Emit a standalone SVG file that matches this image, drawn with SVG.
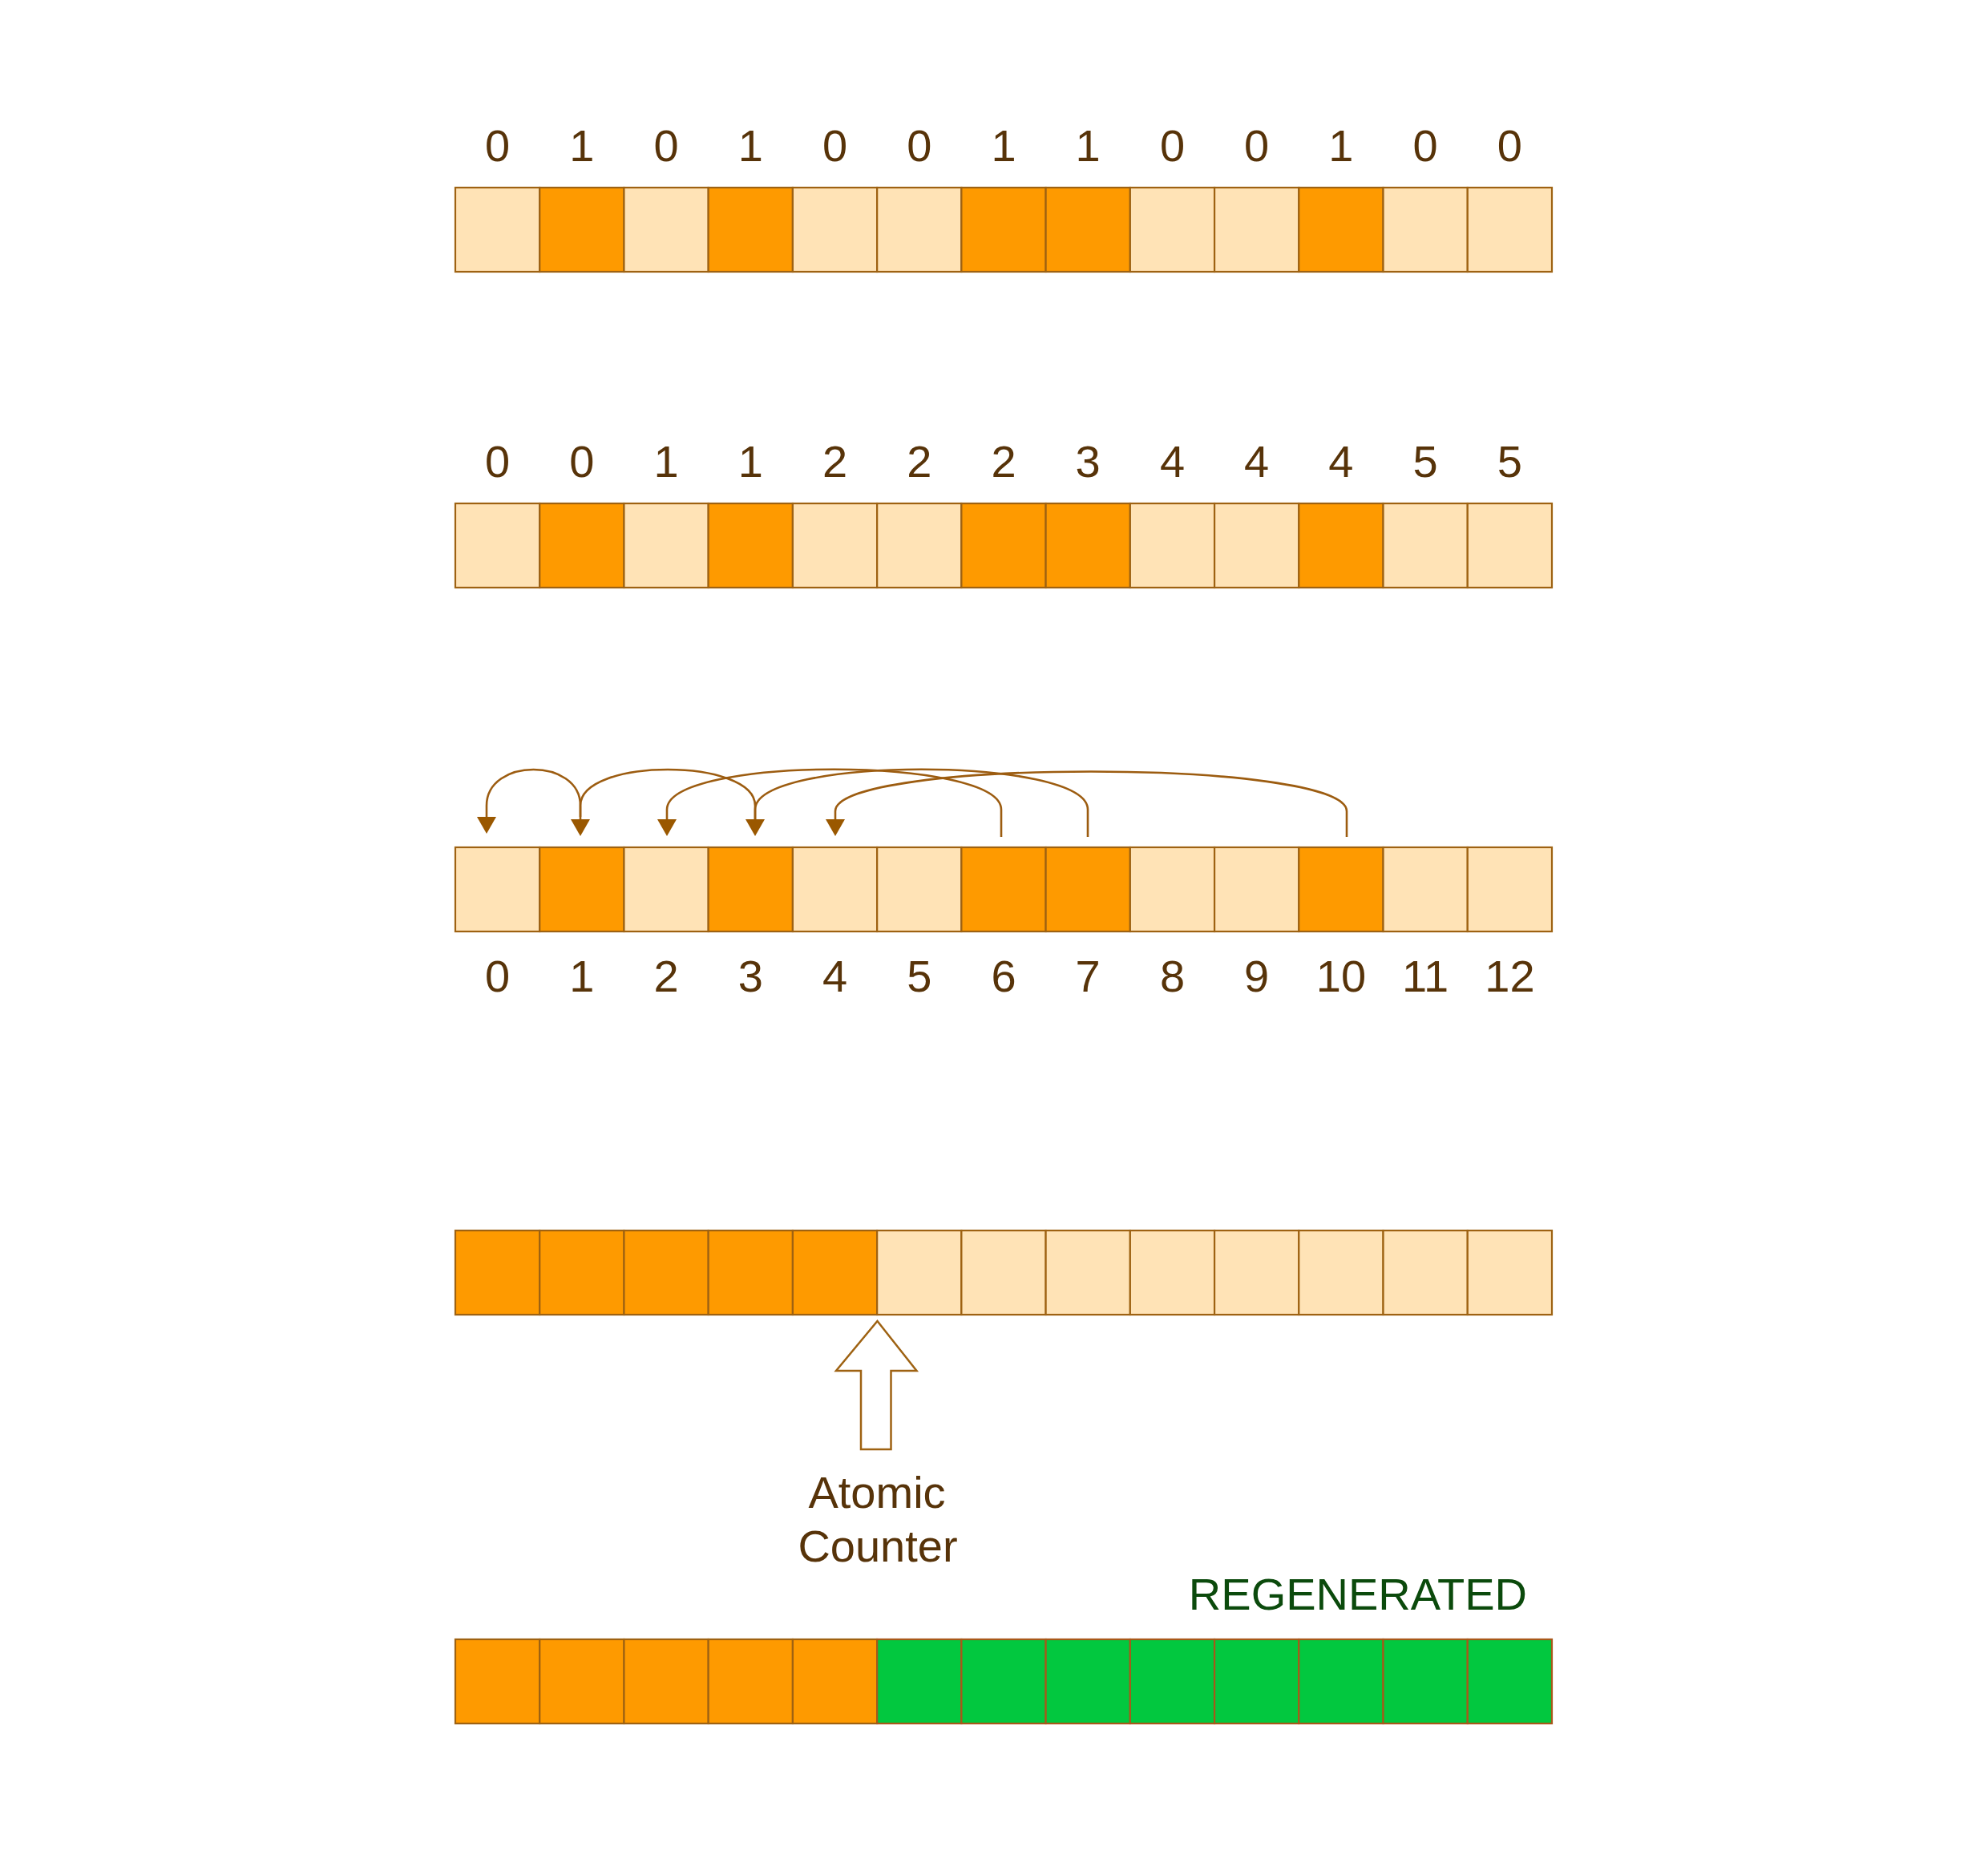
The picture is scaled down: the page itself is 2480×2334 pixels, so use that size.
<svg xmlns="http://www.w3.org/2000/svg" width="2480" height="2334" viewBox="0 0 2480 2334">
<style>
.l{fill:#ffe3b6;stroke:#9e6212;stroke-width:2.2}
.d{fill:#fe9a00;stroke:#9e6212;stroke-width:2.2}
.g{fill:#02c83f;stroke:#a8581a;stroke-width:2.2}
.t{font-family:"Liberation Sans",Arial,sans-serif;font-size:56px;fill:#573309;text-anchor:middle}
.c{fill:none;stroke:#9c5c10;stroke-width:2.6}
</style>
<defs>
<marker id="ah" markerUnits="userSpaceOnUse" markerWidth="24" markerHeight="26" refX="0" refY="12" orient="auto">
<path d="M0,0 L21,12 L0,24 z" fill="#9a5800"/>
</marker>
</defs>
<rect width="2480" height="2334" fill="#ffffff"/>

<g id="row1">
<rect class="l" x="568" y="234" width="105.23" height="105"/>
<rect class="d" x="673.23" y="234" width="105.23" height="105"/>
<rect class="l" x="778.46" y="234" width="105.23" height="105"/>
<rect class="d" x="883.69" y="234" width="105.23" height="105"/>
<rect class="l" x="988.92" y="234" width="105.23" height="105"/>
<rect class="l" x="1094.15" y="234" width="105.23" height="105"/>
<rect class="d" x="1199.38" y="234" width="105.23" height="105"/>
<rect class="d" x="1304.61" y="234" width="105.23" height="105"/>
<rect class="l" x="1409.84" y="234" width="105.23" height="105"/>
<rect class="l" x="1515.07" y="234" width="105.23" height="105"/>
<rect class="d" x="1620.3" y="234" width="105.23" height="105"/>
<rect class="l" x="1725.53" y="234" width="105.23" height="105"/>
<rect class="l" x="1830.76" y="234" width="105.23" height="105"/>
<text class="t" x="620.6" y="201">0</text>
<text class="t" x="725.8" y="201">1</text>
<text class="t" x="831.1" y="201">0</text>
<text class="t" x="936.3" y="201">1</text>
<text class="t" x="1041.5" y="201">0</text>
<text class="t" x="1146.8" y="201">0</text>
<text class="t" x="1252" y="201">1</text>
<text class="t" x="1357.2" y="201">1</text>
<text class="t" x="1462.5" y="201">0</text>
<text class="t" x="1567.7" y="201">0</text>
<text class="t" x="1672.9" y="201">1</text>
<text class="t" x="1778.1" y="201">0</text>
<text class="t" x="1883.4" y="201">0</text>
</g>

<g id="row2">
<rect class="l" x="568" y="628" width="105.23" height="105"/>
<rect class="d" x="673.23" y="628" width="105.23" height="105"/>
<rect class="l" x="778.46" y="628" width="105.23" height="105"/>
<rect class="d" x="883.69" y="628" width="105.23" height="105"/>
<rect class="l" x="988.92" y="628" width="105.23" height="105"/>
<rect class="l" x="1094.15" y="628" width="105.23" height="105"/>
<rect class="d" x="1199.38" y="628" width="105.23" height="105"/>
<rect class="d" x="1304.61" y="628" width="105.23" height="105"/>
<rect class="l" x="1409.84" y="628" width="105.23" height="105"/>
<rect class="l" x="1515.07" y="628" width="105.23" height="105"/>
<rect class="d" x="1620.3" y="628" width="105.23" height="105"/>
<rect class="l" x="1725.53" y="628" width="105.23" height="105"/>
<rect class="l" x="1830.76" y="628" width="105.23" height="105"/>
<text class="t" x="620.6" y="595">0</text>
<text class="t" x="725.8" y="595">0</text>
<text class="t" x="831.1" y="595">1</text>
<text class="t" x="936.3" y="595">1</text>
<text class="t" x="1041.5" y="595">2</text>
<text class="t" x="1146.8" y="595">2</text>
<text class="t" x="1252" y="595">2</text>
<text class="t" x="1357.2" y="595">3</text>
<text class="t" x="1462.5" y="595">4</text>
<text class="t" x="1567.7" y="595">4</text>
<text class="t" x="1672.9" y="595">4</text>
<text class="t" x="1778.1" y="595">5</text>
<text class="t" x="1883.4" y="595">5</text>
</g>

<g id="row3">
<rect class="l" x="568" y="1057" width="105.23" height="105"/>
<rect class="d" x="673.23" y="1057" width="105.23" height="105"/>
<rect class="l" x="778.46" y="1057" width="105.23" height="105"/>
<rect class="d" x="883.69" y="1057" width="105.23" height="105"/>
<rect class="l" x="988.92" y="1057" width="105.23" height="105"/>
<rect class="l" x="1094.15" y="1057" width="105.23" height="105"/>
<rect class="d" x="1199.38" y="1057" width="105.23" height="105"/>
<rect class="d" x="1304.61" y="1057" width="105.23" height="105"/>
<rect class="l" x="1409.84" y="1057" width="105.23" height="105"/>
<rect class="l" x="1515.07" y="1057" width="105.23" height="105"/>
<rect class="d" x="1620.3" y="1057" width="105.23" height="105"/>
<rect class="l" x="1725.53" y="1057" width="105.23" height="105"/>
<rect class="l" x="1830.76" y="1057" width="105.23" height="105"/>
<text class="t" x="620.6" y="1237">0</text>
<text class="t" x="725.8" y="1237">1</text>
<text class="t" x="831.1" y="1237">2</text>
<text class="t" x="936.3" y="1237">3</text>
<text class="t" x="1041.5" y="1237">4</text>
<text class="t" x="1146.8" y="1237">5</text>
<text class="t" x="1252" y="1237">6</text>
<text class="t" x="1357.2" y="1237">7</text>
<text class="t" x="1462.5" y="1237">8</text>
<text class="t" x="1567.7" y="1237">9</text>
<text class="t" x="1672.9" y="1237">10</text>
<text class="t" x="1778.1" y="1237">11</text>
<text class="t" x="1883.4" y="1237">12</text>
</g>

<g id="connectors">
<path class="c" marker-end="url(#ah)" d="M724,1019 L724,1005 C724,945 607,945 607,1005 L607,1019"/>
<path class="c" marker-end="url(#ah)" d="M942,1022 L942,1005 C942,945 724,945 724,1005 L724,1022"/>
<path class="c" marker-end="url(#ah)" d="M1249,1044 L1249,1010 C1249,943 832,943 832,1010 L832,1022"/>
<path class="c" marker-end="url(#ah)" d="M1357,1044 L1357,1010 C1357,943 942,943 942,1010 L942,1022"/>
<path class="c" marker-end="url(#ah)" d="M1680,1044 L1680,1012 C1680,946 1042,946 1042,1012 L1042,1022"/>
</g>

<g id="row4">
<rect class="d" x="568" y="1535" width="105.23" height="105"/>
<rect class="d" x="673.23" y="1535" width="105.23" height="105"/>
<rect class="d" x="778.46" y="1535" width="105.23" height="105"/>
<rect class="d" x="883.69" y="1535" width="105.23" height="105"/>
<rect class="d" x="988.92" y="1535" width="105.23" height="105"/>
<rect class="l" x="1094.15" y="1535" width="105.23" height="105"/>
<rect class="l" x="1199.38" y="1535" width="105.23" height="105"/>
<rect class="l" x="1304.61" y="1535" width="105.23" height="105"/>
<rect class="l" x="1409.84" y="1535" width="105.23" height="105"/>
<rect class="l" x="1515.07" y="1535" width="105.23" height="105"/>
<rect class="l" x="1620.3" y="1535" width="105.23" height="105"/>
<rect class="l" x="1725.53" y="1535" width="105.23" height="105"/>
<rect class="l" x="1830.76" y="1535" width="105.23" height="105"/>
</g>

<g id="atomic-counter">
<polygon points="1094.5,1648 1143.5,1710 1111.5,1710 1111.5,1808 1074,1808 1074,1710 1043,1710" fill="#ffffff" stroke="#9e6212" stroke-width="2.5"/>
<text class="t" x="1094" y="1881">Atomic</text>
<text class="t" x="1095" y="1948">Counter</text>
</g>

<g id="row5">
<text x="1905" y="2008" font-family="Liberation Sans, Arial, sans-serif" font-size="56" fill="#0b4a0c" text-anchor="end">REGENERATED</text>
<rect class="d" x="568" y="2045" width="105.23" height="105"/>
<rect class="d" x="673.23" y="2045" width="105.23" height="105"/>
<rect class="d" x="778.46" y="2045" width="105.23" height="105"/>
<rect class="d" x="883.69" y="2045" width="105.23" height="105"/>
<rect class="d" x="988.92" y="2045" width="105.23" height="105"/>
<rect class="g" x="1094.15" y="2045" width="105.23" height="105"/>
<rect class="g" x="1199.38" y="2045" width="105.23" height="105"/>
<rect class="g" x="1304.61" y="2045" width="105.23" height="105"/>
<rect class="g" x="1409.84" y="2045" width="105.23" height="105"/>
<rect class="g" x="1515.07" y="2045" width="105.23" height="105"/>
<rect class="g" x="1620.3" y="2045" width="105.23" height="105"/>
<rect class="g" x="1725.53" y="2045" width="105.23" height="105"/>
<rect class="g" x="1830.76" y="2045" width="105.23" height="105"/>
</g>
</svg>
